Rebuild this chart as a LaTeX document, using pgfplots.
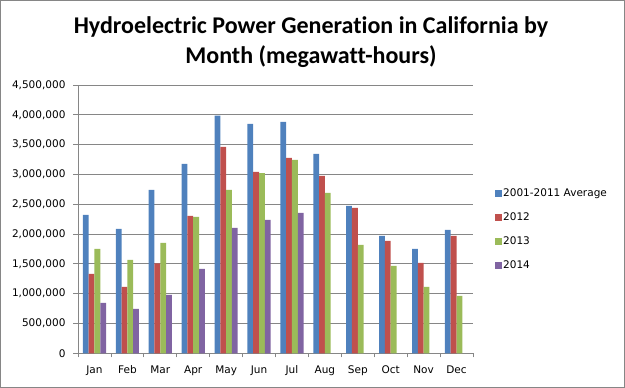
\documentclass[border=0pt]{standalone}
\usepackage{pgfplots}
\pgfplotsset{compat=1.18}
\usepackage{fontspec}
\setmainfont{DejaVu Sans}
\newfontfamily\titlefont[Ligatures={NoCommon}]{Carlito}
\definecolor{cBlue}{HTML}{4F81BD}
\definecolor{cRed}{HTML}{C0504D}
\definecolor{cGreen}{HTML}{9BBB59}
\definecolor{cPurple}{HTML}{8064A2}
\definecolor{gridgray}{HTML}{868686}
\begin{document}
\begin{tikzpicture}[x=1pt,y=1pt]
\useasboundingbox (0,0) rectangle (625,388);
\draw[gridgray, line width=1pt] (0.5,0.5) rectangle (624.5,387.5);
\node[anchor=base, font=\titlefont\bfseries\fontsize{24}{28}\selectfont, inner sep=0pt] at (311,354) {Hydroelectric Power Generation in California by};
\node[anchor=base, font=\titlefont\bfseries\fontsize{24}{28}\selectfont, inner sep=0pt] at (311,324) {Month (megawatt-hours)};
\begin{axis}[
  at={(78pt,34.7pt)}, anchor=south west,
  scale only axis, width=395pt, height=268.3pt,
  xmin=-0.5, xmax=11.5, ymin=0, ymax=4500000,
  ybar=0pt, bar width=5.8pt,
  axis x line*=bottom, axis y line*=left,
  axis line style={-, draw=gridgray, line width=0.8pt},
  ymajorgrids, grid style={draw=gridgray, line width=0.8pt},
  ytick={0,500000,...,4500000},
  scaled y ticks=false,
  /pgf/number format/.cd, fixed, 1000 sep={,}, assume math mode=true, /pgfplots/.cd,
  xtick={0,...,11},
  xticklabels={Jan,Feb,Mar,Apr,May,Jun,Jul,Aug,Sep,Oct,Nov,Dec},
  minor xtick={-0.5,0.5,...,11.5},
  tick align=outside,
  major tick length=5pt, minor tick length=4pt,
  major x tick style={draw=none},
  minor x tick style={draw=gridgray, line width=0.8pt},
  ytick style={draw=gridgray, line width=0.8pt},
  tick label style={font=\fontsize{10.5}{12}\selectfont},
  yticklabel style={xshift=-4pt},
  xticklabel style={yshift=-4pt},
  legend style={draw=none, fill=none, at={(1.0557,0.4625)}, anchor=west, inner sep=0pt,
    font=\fontsize{10.5}{12}\selectfont, row sep=12pt,
    nodes={inner sep=1pt, text height=8pt, text depth=2pt}},
  legend cell align=left,
  legend image code/.code={\fill[#1] (0pt,-3.5pt) rectangle (7pt,3.5pt);},
]
\addplot[fill=cBlue, draw=none] coordinates {(0,2321000) (1,2086000) (2,2740000) (3,3177000) (4,3988000) (5,3848000) (6,3881000) (7,3345000) (8,2472000) (9,1969000) (10,1750000) (11,2069000)};
\addplot[fill=cRed, draw=none] coordinates {(0,1331000) (1,1113000) (2,1510000) (3,2304000) (4,3462000) (5,3043000) (6,3277000) (7,2975000) (8,2438000) (9,1885000) (10,1516000) (11,1969000)};
\addplot[fill=cGreen, draw=none] coordinates {(0,1750000) (1,1566000) (2,1851000) (3,2287000) (4,2740000) (5,3020000) (6,3244000) (7,2690000) (8,1818000) (9,1465000) (10,1113000) (11,962000)};
\addplot[fill=cPurple, draw=none] coordinates {(0,845000) (1,744000) (2,979000) (3,1415000) (4,2103000) (5,2237000) (6,2355000)};
\legend{2001-2011 Average,2012,2013,2014}
\end{axis}
\end{tikzpicture}
\end{document}
